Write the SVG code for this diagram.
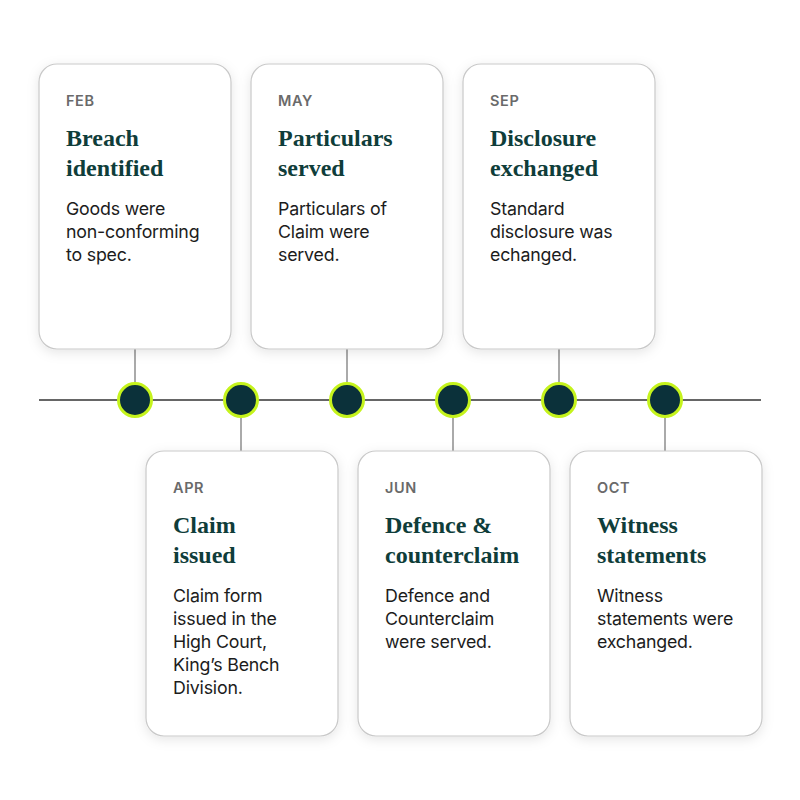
<svg xmlns="http://www.w3.org/2000/svg" width="800" height="800" viewBox="0 0 800 800">
<defs>
<filter id="sh" x="-20%" y="-20%" width="140%" height="140%">
<feDropShadow dx="0" dy="3" stdDeviation="6" flood-color="#000" flood-opacity="0.10"/>
</filter>
<style>
.card{fill:#fff;stroke:#c9c9c9;stroke-width:1.2;filter:url(#sh)}
.mon{font-family:"Inter","Liberation Sans",sans-serif;font-size:14.5px;font-weight:600;fill:#6a6a6a;letter-spacing:0.6px}
.ttl{font-family:"Liberation Serif",serif;font-size:24px;font-weight:bold;fill:#0f3d3a}
.body{font-family:"Inter","Liberation Sans",sans-serif;font-size:17.8px;fill:#1c1c1c;letter-spacing:-0.2px}
.conn{stroke:#aaa;stroke-width:2}
.axis{stroke:#666;stroke-width:2}
.dot{fill:#0b313a;stroke:#c5f31c;stroke-width:3}
</style>
</defs>
<rect width="800" height="800" fill="#fff"/>
<g id="connectors">
<line class="axis" x1="39" y1="400" x2="761" y2="400"/>
<line class="conn" x1="135" y1="349" x2="135" y2="384"/>
<line class="conn" x1="347" y1="349" x2="347" y2="384"/>
<line class="conn" x1="559" y1="349" x2="559" y2="384"/>
<line class="conn" x1="241" y1="416" x2="241" y2="451"/>
<line class="conn" x1="453" y1="416" x2="453" y2="451"/>
<line class="conn" x1="665" y1="416" x2="665" y2="451"/>
</g>
<g id="dots">
<circle class="dot" cx="135" cy="400" r="16.5"/>
<circle class="dot" cx="241" cy="400" r="16.5"/>
<circle class="dot" cx="347" cy="400" r="16.5"/>
<circle class="dot" cx="453" cy="400" r="16.5"/>
<circle class="dot" cx="559" cy="400" r="16.5"/>
<circle class="dot" cx="665" cy="400" r="16.5"/>
</g>
<g id="feb">
<rect class="card" x="39" y="64" width="192" height="285" rx="18"/>
<text class="mon" x="66" y="106">FEB</text>
<text class="ttl" x="66" y="146">Breach</text>
<text class="ttl" x="66" y="176">identified</text>
<text class="body" x="66" y="215">Goods were</text>
<text class="body" x="66" y="238">non-conforming</text>
<text class="body" x="66" y="261">to spec.</text>
</g>
<g id="may">
<rect class="card" x="251" y="64" width="192" height="285" rx="18"/>
<text class="mon" x="278" y="106">MAY</text>
<text class="ttl" x="278" y="146">Particulars</text>
<text class="ttl" x="278" y="176">served</text>
<text class="body" x="278" y="215">Particulars of</text>
<text class="body" x="278" y="238">Claim were</text>
<text class="body" x="278" y="261">served.</text>
</g>
<g id="sep">
<rect class="card" x="463" y="64" width="192" height="285" rx="18"/>
<text class="mon" x="490" y="106">SEP</text>
<text class="ttl" x="490" y="146">Disclosure</text>
<text class="ttl" x="490" y="176">exchanged</text>
<text class="body" x="490" y="215">Standard</text>
<text class="body" x="490" y="238">disclosure was</text>
<text class="body" x="490" y="261">echanged.</text>
</g>
<g id="apr">
<rect class="card" x="146" y="451" width="192" height="285" rx="18"/>
<text class="mon" x="173" y="493">APR</text>
<text class="ttl" x="173" y="533">Claim</text>
<text class="ttl" x="173" y="563">issued</text>
<text class="body" x="173" y="602">Claim form</text>
<text class="body" x="173" y="625">issued in the</text>
<text class="body" x="173" y="648">High Court,</text>
<text class="body" x="173" y="671">King’s Bench</text>
<text class="body" x="173" y="694">Division.</text>
</g>
<g id="jun">
<rect class="card" x="358" y="451" width="192" height="285" rx="18"/>
<text class="mon" x="385" y="493">JUN</text>
<text class="ttl" x="385" y="533">Defence &amp;</text>
<text class="ttl" x="385" y="563">counterclaim</text>
<text class="body" x="385" y="602">Defence and</text>
<text class="body" x="385" y="625">Counterclaim</text>
<text class="body" x="385" y="648">were served.</text>
</g>
<g id="oct">
<rect class="card" x="570" y="451" width="192" height="285" rx="18"/>
<text class="mon" x="597" y="493">OCT</text>
<text class="ttl" x="597" y="533">Witness</text>
<text class="ttl" x="597" y="563">statements</text>
<text class="body" x="597" y="602">Witness</text>
<text class="body" x="597" y="625">statements were</text>
<text class="body" x="597" y="648">exchanged.</text>
</g>
</svg>
